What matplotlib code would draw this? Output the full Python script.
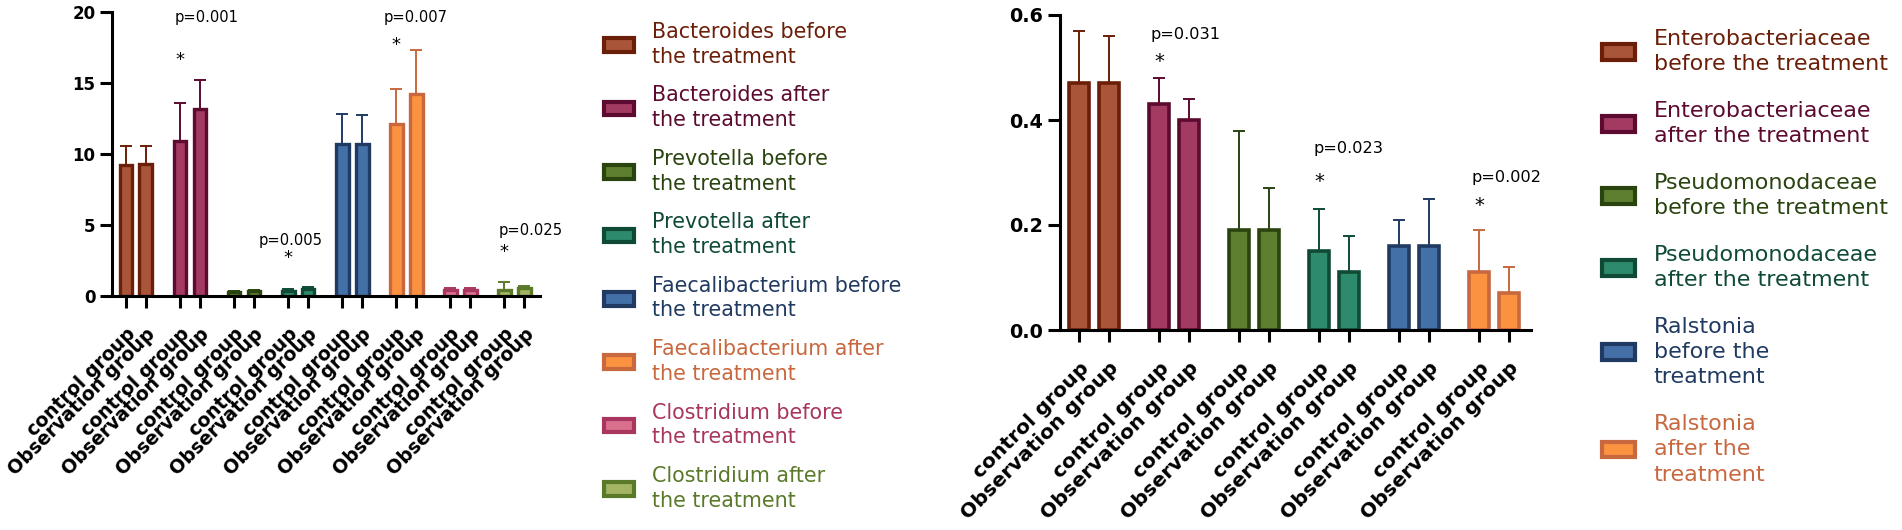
import numpy as np
import matplotlib
matplotlib.use("Agg")
import matplotlib.pyplot as plt
from matplotlib.patches import Patch

plt.rcParams['font.family'] = ['DejaVu Sans']

# ---- data, left panel (genus level) ----
left_names = ['Bacteroides before\nthe treatment', 'Bacteroides after\nthe treatment',
              'Prevotella before\nthe treatment', 'Prevotella after\nthe treatment',
              'Faecalibacterium before\nthe treatment', 'Faecalibacterium after\nthe treatment',
              'Clostridium before\nthe treatment', 'Clostridium after\nthe treatment']
left_ctrl = [9.2, 10.9, 0.30, 0.35, 10.7, 12.1, 0.42, 0.40]
left_obs = [9.3, 13.2, 0.32, 0.50, 10.7, 14.2, 0.42, 0.55]
left_ctrl_sd = [1.35, 2.7, 0.08, 0.15, 2.1, 2.5, 0.13, 0.60]
left_obs_sd = [1.25, 2.0, 0.08, 0.13, 2.05, 3.1, 0.13, 0.12]
left_p = ['p=0.001', 'p=0.005', 'p=0.007', 'p=0.025']
left_p_group = [1, 3, 5, 7]

# ---- data, right panel (family level) ----
right_names = ['Enterobacteriaceae\nbefore the treatment', 'Enterobacteriaceae\nafter the treatment',
               'Pseudomonodaceae\nbefore the treatment', 'Pseudomonodaceae\nafter the treatment',
               'Ralstonia\nbefore the\ntreatment', 'Ralstonia\nafter the\ntreatment']
right_ctrl = [0.47, 0.43, 0.19, 0.15, 0.16, 0.11]
right_obs = [0.47, 0.40, 0.19, 0.11, 0.16, 0.07]
right_ctrl_sd = [0.10, 0.05, 0.19, 0.08, 0.05, 0.08]
right_obs_sd = [0.09, 0.04, 0.08, 0.07, 0.09, 0.05]
right_p = ['p=0.031', 'p=0.023', 'p=0.002']
right_p_group = [1, 3, 5]

group_labels = ['control group', 'Observation group']

# colours (face, edge)
faces = ['#a9553a', '#a33a62', '#5f7f30', '#2e8a6c', '#4470a8', '#fb923f', '#d8708e', '#a3b463']
edges = ['#6b1e08', '#5c0a30', '#2a4410', '#0f4a35', '#203a62', '#c8683f', '#a8365e', '#5a7a2a']

# where the p labels / stars sit (layout only)
left_p_dx = [0.31, -0.13, 0.17, 0.30]
left_p_y = [19.6, 3.9, 19.6, 4.6]
left_star_y = [16.6, 2.7, 17.7, 3.1]
right_p_dx = [0.14, 0.175, 0.16]
right_p_y = [0.562, 0.345, 0.29]
right_star_y = [0.512, 0.282, 0.238]


def draw_panel(ax, ctrl, obs, csd, osd, half, width, lw, fs_tick, fs_lab, pad):
    n = len(ctrl)
    x = np.arange(n)
    xs = np.ravel(np.column_stack([x - half, x + half]))
    vals = np.ravel(np.column_stack([ctrl, obs]))
    sds = np.ravel(np.column_stack([csd, osd]))
    fc = [faces[i // 2] for i in range(2 * n)]
    ec = [edges[i // 2] for i in range(2 * n)]
    for xi, v, s, f, e in zip(xs, vals, sds, fc, ec):
        ax.errorbar(xi, v, yerr=[[0], [s]], fmt='none', ecolor=e, elinewidth=1.4,
                    capsize=4, capthick=1.4, zorder=1)
        ax.bar(xi, v, width=width, color=f, edgecolor=e, linewidth=lw, zorder=2)
    ax.set_xticks(xs)
    ax.set_xticklabels(group_labels * n, rotation=45, ha='right', va='top',
                       rotation_mode='anchor', fontweight='bold', fontsize=fs_lab)
    for lab in ax.get_yticklabels():
        lab.set_fontweight('bold')
        lab.set_fontsize(fs_tick)
    ax.spines['top'].set_visible(False)
    ax.spines['right'].set_visible(False)
    ax.spines['left'].set_linewidth(2.2)
    ax.spines['bottom'].set_linewidth(2.2)
    ax.tick_params(axis='both', length=8.5, width=2.2, direction='out')
    ax.tick_params(axis='x', pad=pad)
    return xs


fig = plt.figure(figsize=(19.02, 5.3), dpi=100)

# left panel
ax1 = fig.add_axes([112 / 1902, 1 - 296 / 530, 428 / 1902, 284 / 530])
ax1.set_ylim(0, 20)
ax1.set_yticks([0, 5, 10, 15, 20])
ax1.set_xlim(-0.444, 7.48)
draw_panel(ax1, left_ctrl, left_obs, left_ctrl_sd, left_obs_sd,
           0.185, 0.24, 2.4, 12, 13.6, 12)
for g, t, dx, py, sy in zip(left_p_group, left_p, left_p_dx, left_p_y, left_star_y):
    ax1.text(g + dx, py, t, ha='center', va='center', fontsize=10.6)
    ax1.text(g - 0.185, sy, '*', ha='center', va='center', fontsize=13)

# right panel
ax2 = fig.add_axes([1060 / 1902, 1 - 330 / 530, 471 / 1902, 315 / 530])
ax2.set_ylim(0, 0.6)
ax2.set_yticks([0.0, 0.2, 0.4, 0.6])
ax2.set_yticklabels(['0.0', '0.2', '0.4', '0.6'])
ax2.set_xlim(-0.425, 5.46)
draw_panel(ax2, right_ctrl, right_obs, right_ctrl_sd, right_obs_sd,
           0.1875, 0.25, 2.6, 13.8, 14.6, 12)
for g, t, dx, py, sy in zip(right_p_group, right_p, right_p_dx, right_p_y, right_star_y):
    ax2.text(g + dx, py, t, ha='center', va='center', fontsize=11.6)
    ax2.text(g - 0.1875, sy, '*', ha='center', va='center', fontsize=14)

# legends
h1 = [Patch(facecolor=faces[i], edgecolor=edges[i], linewidth=3) for i in range(len(left_names))]
leg1 = fig.legend(h1, left_names, loc='upper left', bbox_to_anchor=(604 / 1902, 1 - 22 / 530),
                  frameon=False, fontsize=14.9, borderpad=0, borderaxespad=0,
                  handlelength=1.45, handleheight=0.63, handletextpad=0.87, labelspacing=0.9)
for t, c in zip(leg1.get_texts(), edges):
    t.set_color(c)
    t.set_linespacing(1.3)

h2 = [Patch(facecolor=faces[i], edgecolor=edges[i], linewidth=3) for i in range(len(right_names))]
leg2 = fig.legend(h2, right_names, loc='upper left', bbox_to_anchor=(1602 / 1902, 1 - 29 / 530),
                  frameon=False, fontsize=16, borderpad=0, borderaxespad=0,
                  handlelength=1.48, handleheight=0.72, handletextpad=0.85, labelspacing=1.2)
for t, c in zip(leg2.get_texts(), edges):
    t.set_color(c)
    t.set_linespacing(1.33)

fig.savefig('out.png', dpi=100)
